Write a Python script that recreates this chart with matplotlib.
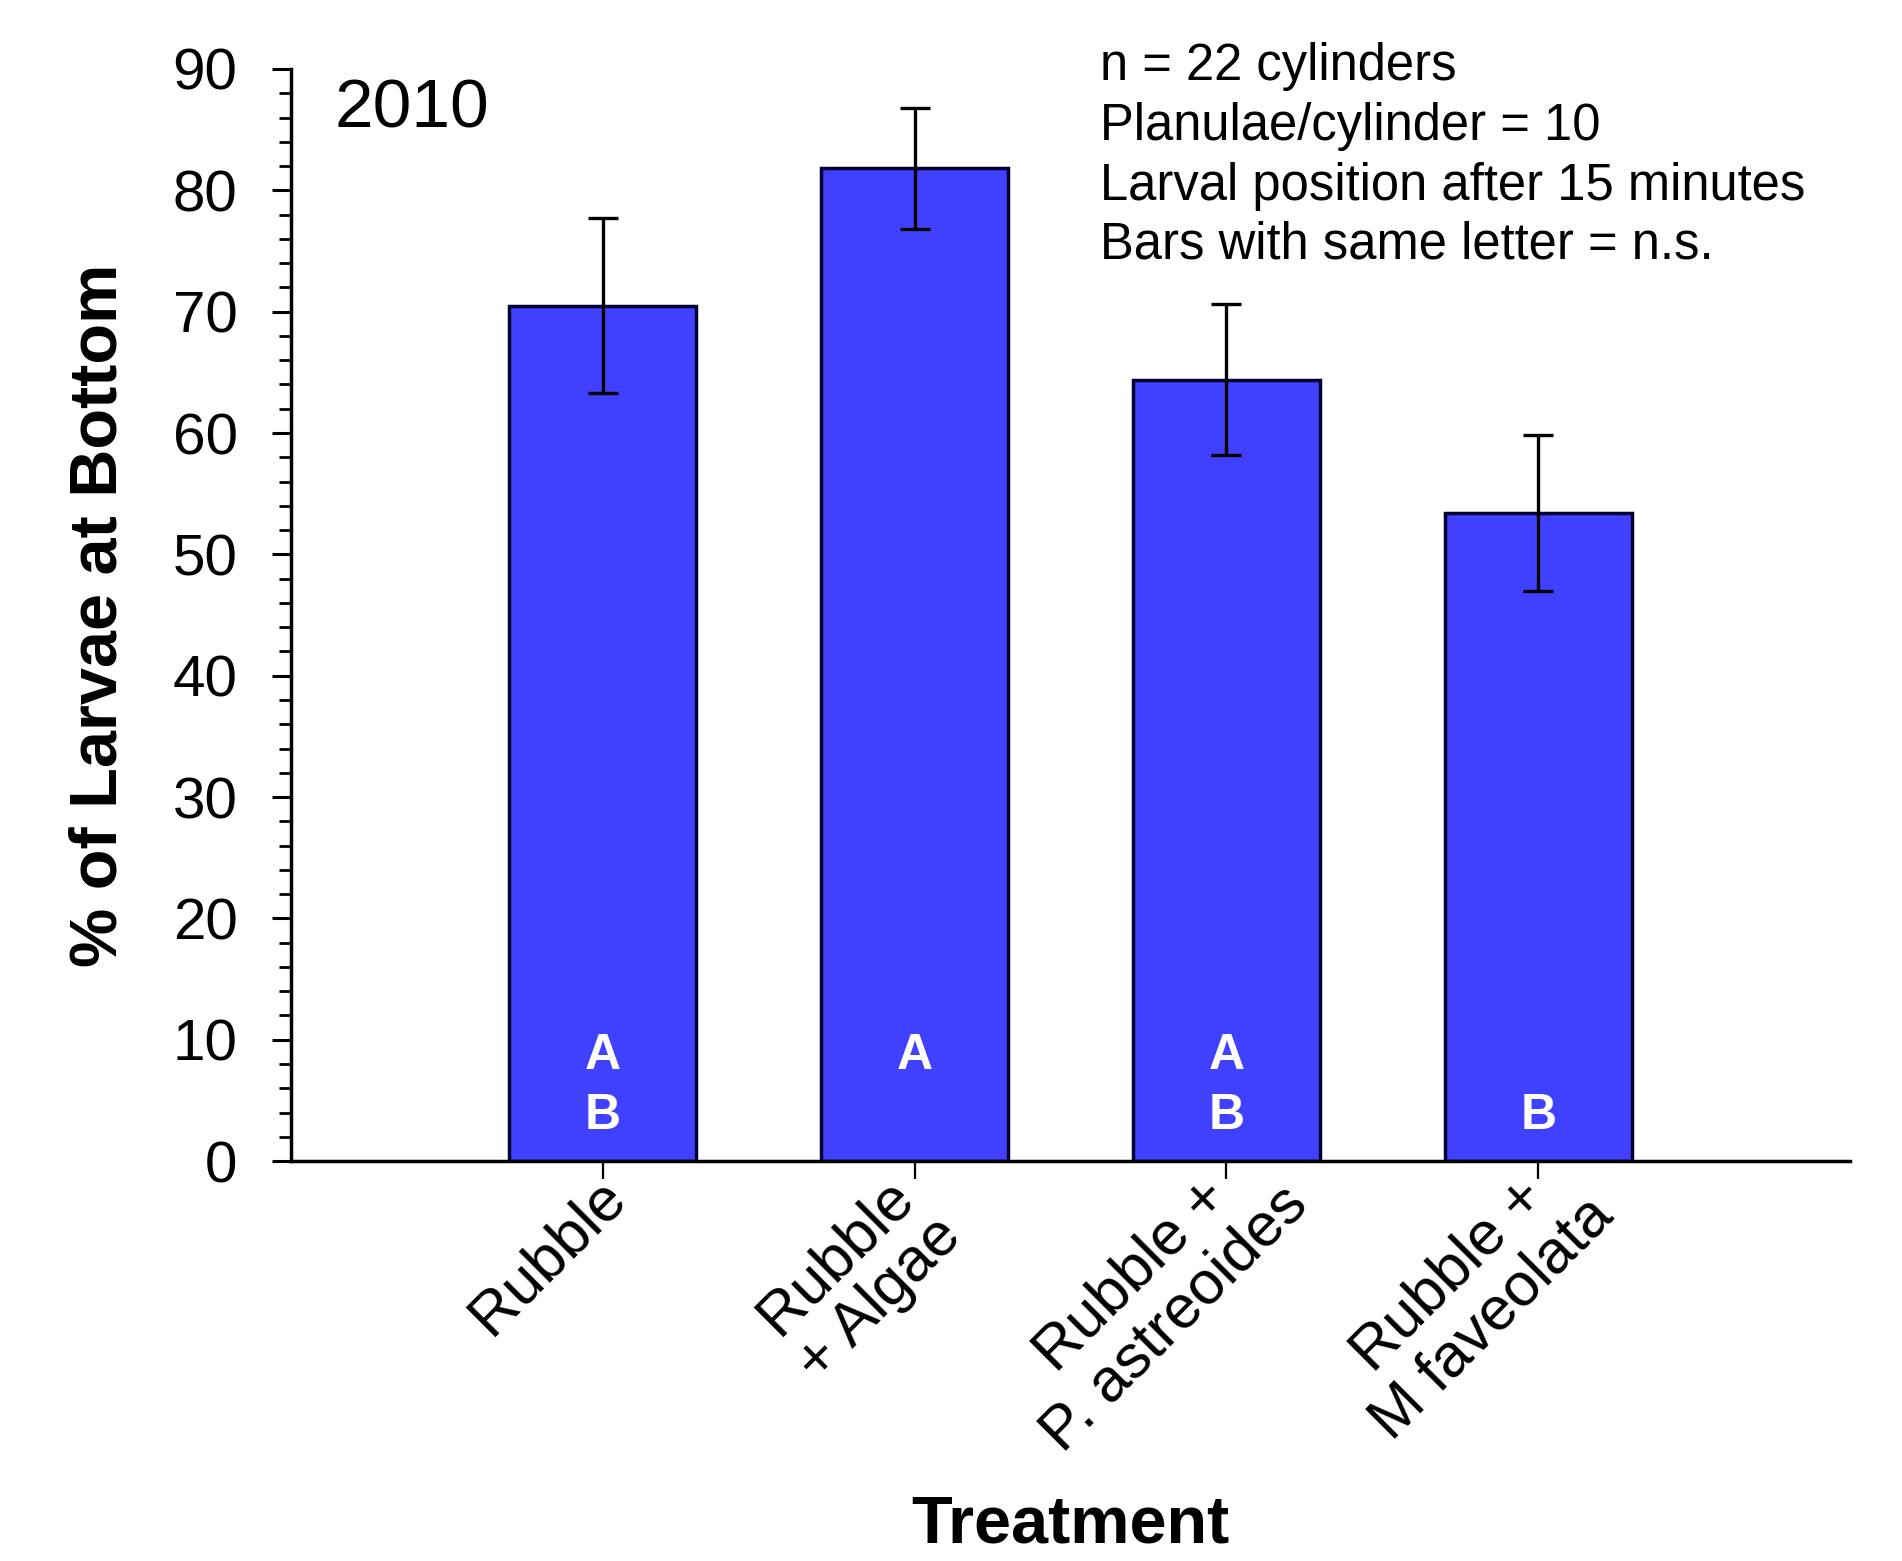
import numpy as np
import matplotlib
matplotlib.use("Agg")
import matplotlib.pyplot as plt
from matplotlib.ticker import MultipleLocator
from matplotlib.transforms import ScaledTranslation

plt.rcParams["font.family"] = ["Liberation Sans", "DejaVu Sans"]

# data
treatments = ["Rubble", "Rubble\n+ Algae", "Rubble +\nP. astreoides", "Rubble +\nM faveolata"]
pct_bottom = [70.5, 81.8, 64.4, 53.4]
sem = [7.2, 5.0, 6.2, 6.45]
letters = ["A\nB", "A", "A\nB", "B"]
notes = ["n = 22 cylinders", "Planulae/cylinder = 10",
         "Larval position after 15 minutes", "Bars with same letter = n.s."]
year = "2010"

fig = plt.figure(figsize=(19.02, 15.61), dpi=100)
ax = fig.add_axes([0.1530, 0.2562, 0.8197, 0.6996])

x = np.arange(len(treatments))
ax.bar(x, pct_bottom, width=0.6, color="#4040ff", edgecolor="#000033", linewidth=2.5, zorder=2)
ax.errorbar(x, pct_bottom, yerr=sem, fmt="none", ecolor="black", elinewidth=2.4,
            capsize=11, capthick=2.4, zorder=3)

# significance letters inside the bars
for xi, lab in zip(x, letters):
    rows = lab.split("\n")
    ys = [8.7, 3.7] if len(rows) == 2 else ([8.7] if rows[0] == "A" else [3.7])
    for r, yv in zip(rows, ys):
        ax.text(xi, yv, r, color="white", fontsize=36, fontweight="bold",
                ha="center", va="center", zorder=4)

ax.set_xlim(-1, 4)
ax.set_ylim(0, 90)
ax.yaxis.set_major_locator(MultipleLocator(10))
ax.yaxis.set_minor_locator(MultipleLocator(2))
ax.set_xticks(x)
ax.set_xticklabels([])

# rotated category labels; the reference aligns on the inked text, so nudge
# each block by how much shorter its first line is than its longest line
fig.canvas.draw()
renderer = fig.canvas.get_renderer()
lab_size = 44
for xi, lab in zip(x, treatments):
    widths = []
    for line in lab.split("\n"):
        t = ax.text(0, 0, line, fontsize=lab_size)
        widths.append(t.get_window_extent(renderer).width)
        t.remove()
    gap = max(0.0, max(widths) - widths[0])  # px
    dx = -0.55 - gap * 0.177 / fig.dpi
    dy = -0.07 + gap * 0.354 / fig.dpi
    shift = ScaledTranslation(dx, dy, fig.dpi_scale_trans)
    ax.text(xi, 0, lab, transform=ax.get_xaxis_transform() + shift,
            rotation=45, ha="center", va="top", multialignment="center",
            fontsize=lab_size, linespacing=1.1)

for s in ["top", "right"]:
    ax.spines[s].set_visible(False)
for s in ["left", "bottom"]:
    ax.spines[s].set_linewidth(2.5)

ax.tick_params(axis="y", which="major", direction="out", length=13.5, width=2.2,
               labelsize=42, pad=25)
ax.tick_params(axis="y", which="minor", direction="out", length=8.5, width=2.0)
ax.tick_params(axis="x", which="major", direction="out", length=13, width=1.6)

ax.set_ylabel("% of Larvae at Bottom", fontsize=48, fontweight="bold")
ax.yaxis.set_label_coords(-0.103, 0.5)
ax.set_xlabel("Treatment", fontsize=48, fontweight="bold")
ax.xaxis.set_label_coords(0.5, -0.305)

ax.text(-0.86, 85.2, year, fontsize=50, ha="left", va="baseline")
for yv, line in zip([89.1, 84.15, 79.2, 74.4], notes):
    ax.text(1.593, yv, line, fontsize=36.5, ha="left", va="baseline")

fig.savefig("out.png", dpi=100, facecolor="white")
